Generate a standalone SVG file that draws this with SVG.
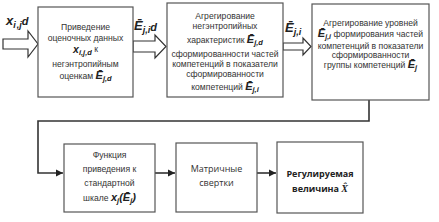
<svg xmlns="http://www.w3.org/2000/svg" width="439" height="222" viewBox="0 0 439 222">
<style>
.box{fill:#fff;stroke:#555;stroke-width:1.2}
.blk{fill:#fff;stroke:#333;stroke-width:1.2}
.t{font-family:"Liberation Sans",Arial,sans-serif;font-size:8.6px;fill:#333;text-anchor:middle}
.c{font-family:"Open Sans","Liberation Sans",sans-serif;font-size:9px;fill:#333;text-anchor:middle}
.cb{font-family:"Open Sans","Liberation Sans",sans-serif;font-size:9px;fill:#222;text-anchor:middle;font-weight:bold}
.m{font-family:"Liberation Sans",Arial,sans-serif;font-style:italic;font-weight:bold;fill:#222}
.conn{fill:none;stroke:#333;stroke-width:1.6}
</style>
<defs>
<marker id="ah" markerWidth="8" markerHeight="8" refX="7" refY="4" orient="auto" markerUnits="userSpaceOnUse">
<path d="M0,0.5 L7,4 L0,7.5 Z" fill="#222"/>
</marker>
</defs>
<rect width="439" height="222" fill="#fff"/>
<g id="connectors">
<polygon class="blk" points="3,39 28,39 28,31 38,44 28,57 28,49 3,49"/>
<polygon class="blk" points="133,41 155,41 155,35 166,46.5 155,58 155,52 133,52"/>
<polygon class="blk" points="283,43 303,43 303,38 311,46.5 303,55 303,50 283,50"/>
<path class="conn" d="M369,100 V121 H38 V173 H63" marker-end="url(#ah)"/>
<path class="conn" d="M155,173 H175" marker-end="url(#ah)"/>
<path class="conn" d="M257,173 H276" marker-end="url(#ah)"/>
<text class="m" x="6" y="25" font-size="13">x<tspan font-size="9" dy="3">i</tspan><tspan font-size="9" dx="1">,</tspan><tspan font-size="9">j</tspan><tspan font-size="11" dy="-3">d</tspan></text>
<text class="m" x="134" y="30" font-size="13">Ē<tspan font-size="9" dy="3">j</tspan><tspan font-size="9">,i</tspan><tspan font-size="11" dy="-2">d</tspan></text>
<text class="m" x="285" y="32" font-size="13">Ē<tspan font-size="9" dy="3">j</tspan><tspan font-size="9">,i</tspan></text>
</g>
<g id="n1">
<rect class="box" x="38" y="7" width="95" height="90"/>
<text class="t" x="85.5" y="30">Приведение</text>
<text class="t" x="85.5" y="41">оценочных данных</text>
<text class="t" x="85.5" y="53"><tspan class="m" font-size="10.5">x</tspan><tspan class="m" font-size="7.5" dy="2">i,j,d</tspan><tspan dy="-3"> к</tspan></text>
<text class="t" x="85.5" y="67">негэнтропийным</text>
<text class="t" x="85.5" y="79">оценкам <tspan class="m" font-size="11">Ē</tspan><tspan class="m" font-size="7.5" dy="2">j,d</tspan></text>
</g>
<g id="n2">
<rect class="box" x="167" y="3" width="116" height="94"/>
<text class="t" x="225" y="19">Агрегирование</text>
<text class="t" x="225" y="29">негэнтропийных</text>
<text class="t" x="225" y="43">характеристик <tspan class="m" font-size="11">Ē</tspan><tspan class="m" font-size="7.5" dy="2">j,d</tspan></text>
<text class="t" x="225" y="57">сформированности частей</text>
<text class="t" x="225" y="67">компетенций в показатели</text>
<text class="t" x="225" y="77">сформированности</text>
<text class="t" x="225" y="90">компетенций <tspan class="m" font-size="11">Ē</tspan><tspan class="m" font-size="7.5" dy="2">j,i</tspan></text>
</g>
<g id="n3">
<rect class="box" x="312" y="4" width="117" height="96"/>
<text class="t" x="370.5" y="26">Агрегирование уровней</text>
<text class="t" x="370.5" y="37"><tspan class="m" font-size="11">Ē</tspan><tspan class="m" font-size="7" dy="1.5">j,i</tspan><tspan dy="-1.5"> формирования частей</tspan></text>
<text class="t" x="370.5" y="48.5">компетенций в показатели</text>
<text class="t" x="370.5" y="58">сформированности</text>
<text class="t" x="370.5" y="68">группы компетенций <tspan class="m" font-size="11">Ē</tspan><tspan class="m" font-size="7.5" dy="2">j</tspan></text>
</g>
<g id="n4">
<rect class="box" x="64" y="144" width="91" height="68"/>
<text class="t" x="109.5" y="158">Функция</text>
<text class="t" x="109.5" y="172">приведения к</text>
<text class="t" x="109.5" y="186">стандартной</text>
<text class="t" x="109.5" y="201">шкале <tspan class="m" font-size="11">x</tspan><tspan class="m" font-size="7.5" dy="2">j</tspan><tspan class="m" font-size="11" dy="-2">(Ē</tspan><tspan class="m" font-size="7.5" dy="2">j</tspan><tspan class="m" font-size="11" dy="-2">)</tspan></text>
</g>
<g id="n5">
<rect class="box" x="176" y="143" width="81" height="69"/>
<text class="c" x="216.5" y="172">Матричные</text>
<text class="c" x="216.5" y="186">свертки</text>
</g>
<g id="n6">
<rect class="box" x="277" y="142" width="86" height="71"/>
<text class="cb" x="320" y="177">Регулируемая</text>
<text class="cb" x="320" y="192">величина <tspan font-style="italic" font-family="Liberation Serif,serif" font-size="10">X̂</tspan></text>
</g>
</svg>
